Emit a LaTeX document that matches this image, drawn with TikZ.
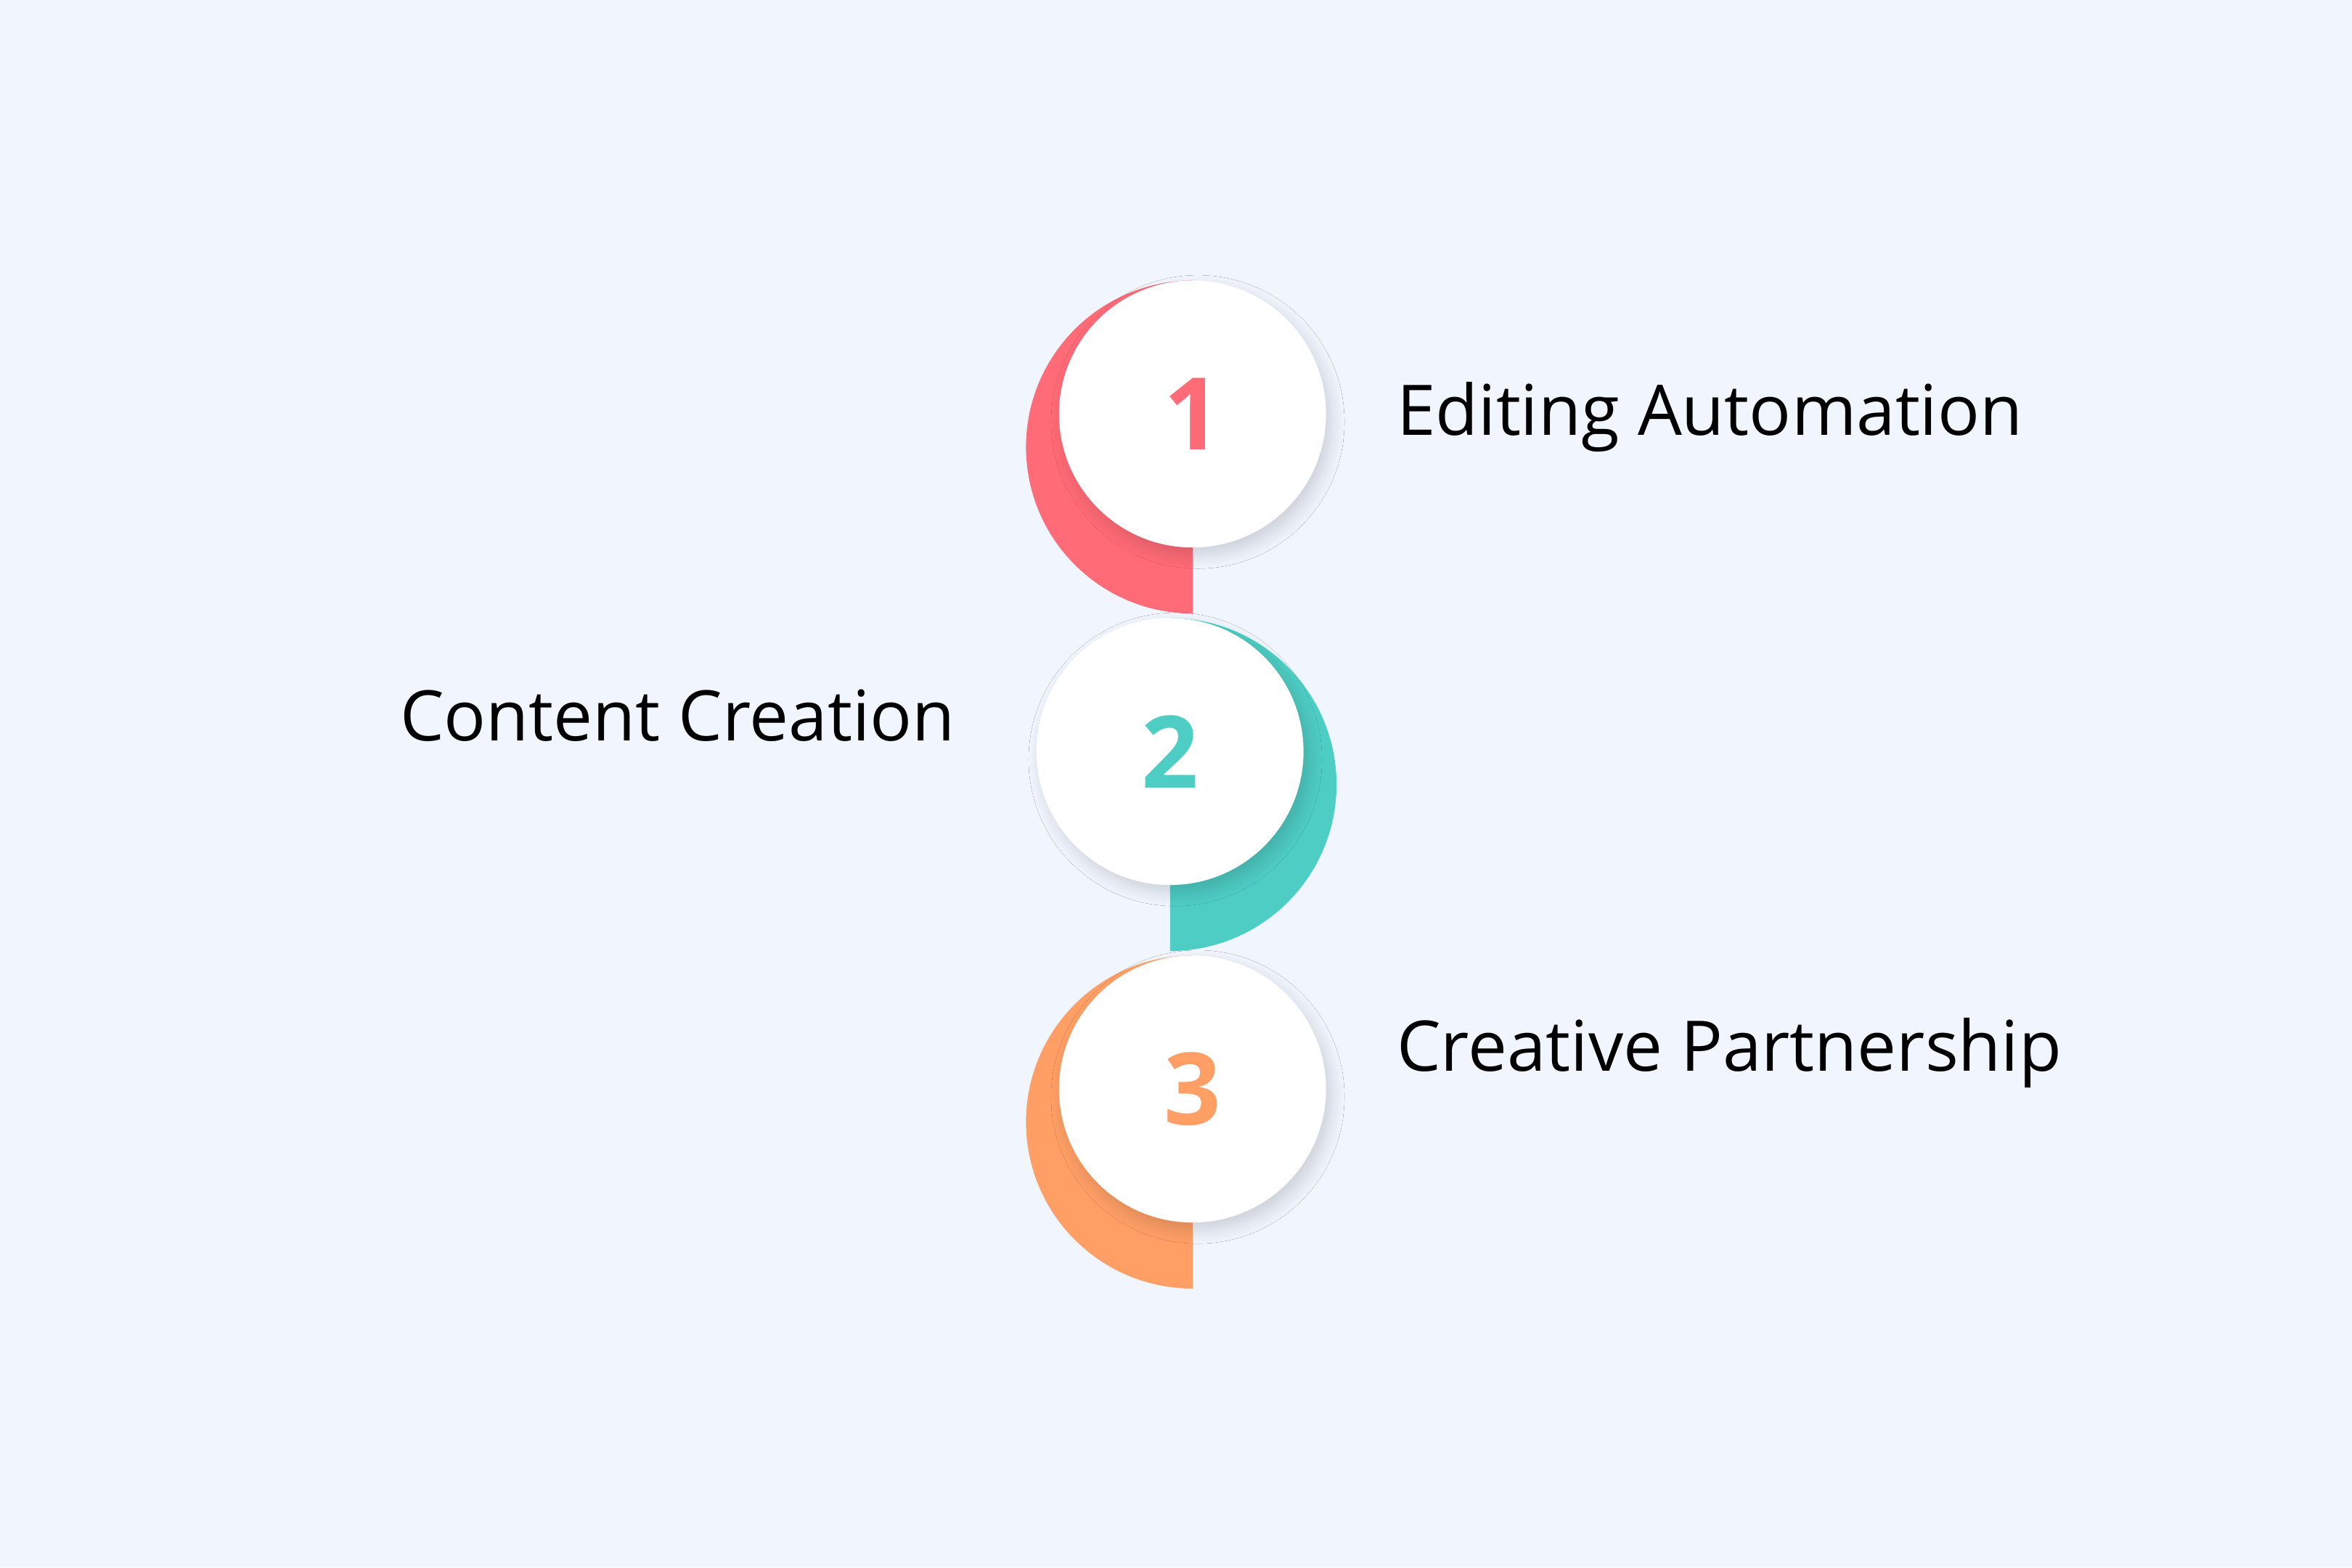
\documentclass[tikz,border=0pt]{standalone}
\usepackage{fontspec}
\setmainfont{Open Sans}
\usetikzlibrary{shadows.blur}
\definecolor{bg}{HTML}{F0F5FE}
\definecolor{cpink}{HTML}{FF6B77}
\definecolor{cteal}{HTML}{4ECDC4}
\definecolor{corange}{HTML}{FF9F66}
\tikzset{
  disc/.style={circle,fill=white,minimum size=178*0.02cm,inner sep=0pt,blur shadow={shadow xshift=2pt,shadow yshift=-3pt,shadow opacity=15,shadow blur radius=5pt,shadow blur steps=10}},
  num/.style={font=\fontsize{38}{40}\selectfont\bfseries},
  lbl/.style={font=\fontsize{26.5}{30}\selectfont,text=black}
}
\begin{document}
\begin{tikzpicture}[x=0.02cm,y=-0.02cm]
\fill[bg] (0,0) rectangle (1568,1045);
\useasboundingbox (0,0) rectangle (1568,1045);
% half discs
\fill[cpink] (795,187) arc[start angle=270,end angle=90,radius=111] -- cycle;
\fill[cteal] (780,412) arc[start angle=270,end angle=450,radius=111] -- cycle;
\fill[corange] (795,637) arc[start angle=270,end angle=90,radius=111] -- cycle;
\node[disc] (c1) at (795,276) {};
\node[disc] (c2) at (780,501) {};
\node[disc] (c3) at (795,726) {};
\node[num,text=cpink] at (c1) {1};
\node[num,text=cteal] at (c2) {2};
\node[num,text=corange] at (c3) {3};
\node[lbl,anchor=west] (t1) at (925,278) {Editing Automation};
\node[lbl,anchor=east] (t2) at (643,477) {Content Creation};
\node[lbl,anchor=west] (t3) at (925,702) {Creative Partnership};
\end{tikzpicture}
\end{document}
